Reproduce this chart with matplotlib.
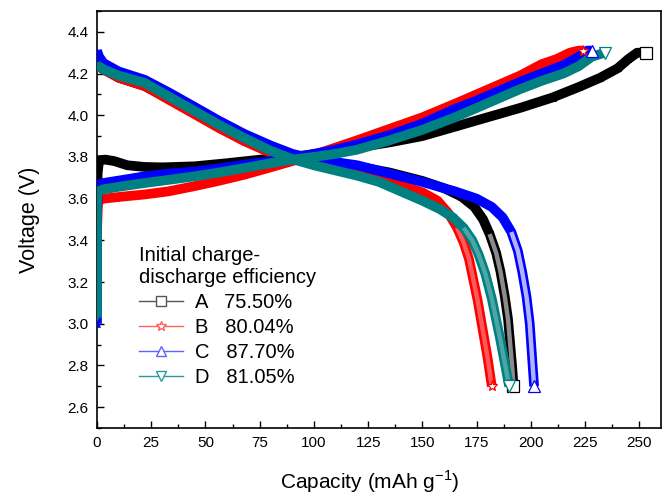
import matplotlib
matplotlib.use("Agg")
import matplotlib.pyplot as plt
from matplotlib.lines import Line2D
from matplotlib.ticker import MultipleLocator

plt.rcParams['font.family'] = ['Liberation Sans', 'DejaVu Sans']

# ---- data ----
samples = ["A", "B", "C", "D"]
efficiency = ["75.50%", "80.04%", "87.70%", "81.05%"]
colors = ["#000000", "#FF0000", "#0000FF", "#008080"]
legend_colors = ["#555555", "#FF6060", "#6060FF", "#2E9A9A"]
markers = ["s", "*", "^", "v"]

# charge curves
chg_A_x = [0, 0.3, 0.6, 1, 4, 8, 14, 22, 30, 45, 60, 75, 90, 105, 120, 135, 150, 165, 180, 195, 210, 222, 232, 240, 245, 249, 253]
chg_A_y = [3.50, 3.72, 3.75, 3.785, 3.787, 3.78, 3.76, 3.752, 3.75, 3.755, 3.77, 3.787, 3.80, 3.82, 3.845, 3.87, 3.90, 3.945, 3.99, 4.035, 4.085, 4.135, 4.18, 4.225, 4.27, 4.30, 4.30]

chg_B_x = [0, 0.5, 3, 12, 22, 33, 45, 56, 68, 80, 90, 100, 110, 120, 135, 150, 165, 175, 185, 195, 205, 212, 218, 222, 224]
chg_B_y = [3.44, 3.59, 3.60, 3.61, 3.62, 3.635, 3.66, 3.685, 3.715, 3.75, 3.78, 3.81, 3.845, 3.88, 3.935, 3.99, 4.055, 4.10, 4.145, 4.19, 4.245, 4.27, 4.30, 4.31, 4.31]

chg_C_x = [0, 0, 0.5, 3, 12, 22, 33, 45, 56, 68, 80, 90, 100, 110, 120, 135, 150, 165, 175, 185, 195, 205, 215, 222, 226, 228]
chg_C_y = [3.00, 3.53, 3.667, 3.675, 3.69, 3.707, 3.72, 3.73, 3.745, 3.763, 3.78, 3.795, 3.815, 3.835, 3.86, 3.905, 3.96, 4.03, 4.07, 4.115, 4.16, 4.20, 4.24, 4.28, 4.31, 4.31]

chg_D_x = [0, 0, 0, 0.5, 3, 12, 22, 33, 45, 56, 68, 80, 90, 100, 110, 120, 135, 150, 165, 175, 185, 195, 205, 215, 222, 228, 234]
chg_D_y = [3.03, 3.46, 3.595, 3.635, 3.645, 3.66, 3.675, 3.69, 3.707, 3.725, 3.747, 3.77, 3.787, 3.80, 3.815, 3.835, 3.88, 3.93, 3.99, 4.035, 4.08, 4.125, 4.165, 4.20, 4.235, 4.28, 4.30]

# discharge curves
dis_A_x = [0, 3, 10, 22, 33, 45, 56, 68, 80, 90, 100, 110, 120, 135, 150, 160, 168, 174, 178, 181, 184, 186, 188, 189.5, 190.5, 191.5, 192]
dis_A_y = [4.24, 4.22, 4.18, 4.14, 4.08, 4.01, 3.95, 3.885, 3.83, 3.80, 3.785, 3.77, 3.755, 3.725, 3.685, 3.65, 3.61, 3.56, 3.50, 3.43, 3.34, 3.25, 3.13, 3.02, 2.90, 2.78, 2.70]

dis_B_x = [0, 3, 10, 22, 33, 45, 56, 68, 80, 90, 100, 110, 120, 135, 150, 157, 162, 166, 169, 171.5, 173.5, 175.5, 177, 178.5, 180, 181, 182]
dis_B_y = [4.24, 4.22, 4.18, 4.14, 4.075, 4.005, 3.94, 3.875, 3.82, 3.79, 3.765, 3.745, 3.72, 3.68, 3.63, 3.59, 3.53, 3.46, 3.39, 3.31, 3.21, 3.11, 3.02, 2.93, 2.84, 2.77, 2.70]

dis_C_x = [0, 1, 3, 10, 22, 33, 45, 56, 68, 80, 90, 100, 110, 120, 135, 150, 165, 175, 182, 187, 191, 194, 196, 198, 199.5, 200.5, 201.5]
dis_C_y = [4.31, 4.28, 4.25, 4.21, 4.17, 4.11, 4.04, 3.975, 3.91, 3.855, 3.815, 3.79, 3.775, 3.76, 3.72, 3.68, 3.635, 3.60, 3.56, 3.51, 3.44, 3.35, 3.25, 3.13, 3.00, 2.85, 2.70]

dis_D_x = [0, 3, 10, 22, 33, 45, 56, 68, 80, 90, 100, 110, 120, 130, 140, 150, 158, 164, 169, 173, 176, 179, 182, 184, 186, 188, 190]
dis_D_y = [4.24, 4.22, 4.19, 4.155, 4.09, 4.02, 3.955, 3.89, 3.83, 3.79, 3.76, 3.735, 3.71, 3.68, 3.635, 3.59, 3.55, 3.51, 3.46, 3.40, 3.33, 3.24, 3.12, 3.02, 2.92, 2.81, 2.70]

x_ticks = [0, 25, 50, 75, 100, 125, 150, 175, 200, 225, 250]
y_ticks = [2.6, 2.8, 3.0, 3.2, 3.4, 3.6, 3.8, 4.0, 4.2, 4.4]

charge = [(chg_A_x, chg_A_y), (chg_B_x, chg_B_y), (chg_C_x, chg_C_y), (chg_D_x, chg_D_y)]
discharge = [(dis_A_x, dis_A_y), (dis_B_x, dis_B_y), (dis_C_x, dis_C_y), (dis_D_x, dis_D_y)]
tail_alpha = [0.55, 0.35, 0.7, 0.3]

fig = plt.figure(figsize=(6.67, 4.95), dpi=100)
ax = fig.add_axes([0.1454, 0.1354, 0.8456, 0.8424])

for i in range(4):
    z = 2 + i
    for (xs, ys) in (charge[i], discharge[i]):
        ax.plot(xs, ys, color=colors[i], lw=7, solid_capstyle='butt', solid_joinstyle='round',
                marker=markers[i], ms=5, mfc=colors[i], mec=colors[i], mew=0.5, zorder=z)
    # lighter interior in the steep discharge tail (stacked hollow markers in the original)
    dx, dy = discharge[i]
    k = next(j for j, v in enumerate(dy) if v <= 3.46)
    ax.plot(dx[k:], dy[k:], color='white', lw=3.2, alpha=tail_alpha[i],
            solid_capstyle='butt', zorder=z + 0.5)
    # hollow end markers
    ax.plot([charge[i][0][-1]], [charge[i][1][-1]], linestyle='none', marker=markers[i], ms=8,
            mfc='white', mec=colors[i], mew=0.9, zorder=10)
    ax.plot([dx[-1]], [dy[-1]], linestyle='none', marker=markers[i], ms=8,
            mfc='white', mec=colors[i], mew=0.9, zorder=10)

ax.set_xlim(0, 260)
ax.set_ylim(2.5, 4.5)
ax.set_xticks(x_ticks)
ax.set_yticks(y_ticks)
ax.set_yticklabels([f"{v:.1f}" for v in y_ticks])
ax.xaxis.set_minor_locator(MultipleLocator(12.5))
ax.yaxis.set_minor_locator(MultipleLocator(0.1))
ax.tick_params(which='both', direction='in', top=False, right=False, labelsize=11, width=1.0)
ax.tick_params(which='major', length=5)
ax.tick_params(which='minor', length=3)
ax.tick_params(axis='y', pad=6)
ax.tick_params(axis='x', pad=6)
for s in ax.spines.values():
    s.set_linewidth(1.2)

ax.set_xlabel("Capacity (mAh g$^{\\mathregular{-1}}$)", fontsize=15, labelpad=13)
ax.xaxis.label.set_x(0.483)
ax.set_ylabel("Voltage (V)", fontsize=15.5, labelpad=20)

handles = [Line2D([0], [0], color=legend_colors[i], lw=1.0, marker=markers[i], ms=7,
                  mfc='white', mec=legend_colors[i], mew=1.0) for i in range(4)]
labels = [f"{samples[i]}   {efficiency[i]}" for i in range(4)]
leg = ax.legend(handles, labels, title="Initial charge-\ndischarge efficiency",
                loc='upper left', bbox_to_anchor=(0.06, 0.455), frameon=False,
                fontsize=14.5, title_fontsize=14.5, handlelength=2.2, handletextpad=0.6,
                labelspacing=0.3, borderaxespad=0, alignment='left')

fig.savefig("out.png", dpi=100)
